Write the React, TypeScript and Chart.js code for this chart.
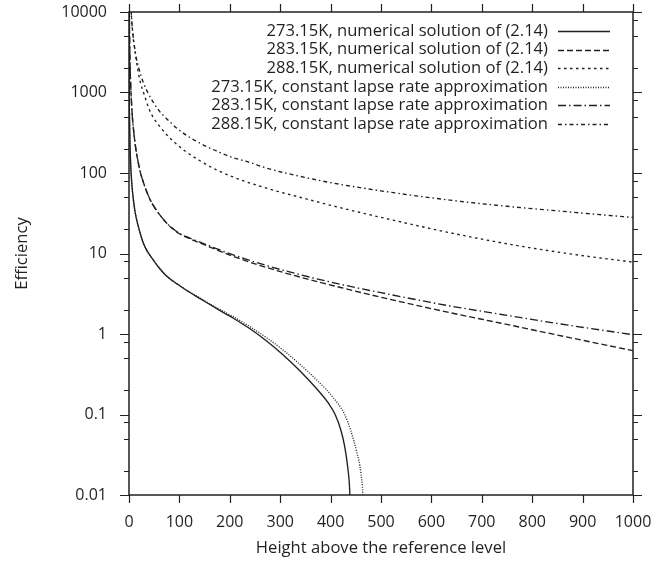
import React, { useEffect, useRef } from "react";
import { Chart, registerables } from "chart.js";

Chart.register(...registerables);

const FONT = "'Open Sans'";
const INK = "#231f20";

const LEGEND_LABELS = [
  "273.15K, numerical solution of (2.14)",
  "283.15K, numerical solution of (2.14)",
  "288.15K, numerical solution of (2.14)",
  "273.15K, constant lapse rate approximation",
  "283.15K, constant lapse rate approximation",
  "288.15K, constant lapse rate approximation",
];

const X_TICKS = [0, 100, 200, 300, 400, 500, 600, 700, 800, 900, 1000];
const Y_TICKS = [0.01, 0.1, 1, 10, 100, 1000, 10000];
const Y_MINOR_FACTORS = [2, 5, 8];

// 273.15K numerical (solid)
const X_273_NUM = [0, 0.5, 1, 2, 4, 6, 8.6, 12, 16, 22, 28, 35, 47.6, 60, 75, 100, 120, 141, 175, 207, 240, 273, 306, 339, 372, 395, 409, 420, 428, 434, 438, 440];
const Y_273_NUM = [20000, 1000, 480, 220, 105, 68, 47, 33, 25, 18, 13.7, 11, 8.4, 6.6, 5.2, 4.0, 3.3, 2.75, 2.05, 1.57, 1.16, 0.82, 0.55, 0.35, 0.21, 0.14, 0.1, 0.065, 0.04, 0.022, 0.011, 0.004];

// 283.15K numerical (dashed)
const X_283_NUM = [0, 0.5, 1, 2, 5, 10, 20, 30, 41.7, 50, 60, 75, 88, 100, 120, 141, 207, 273, 339, 420, 500, 637, 736, 850, 1000];
const Y_283_NUM = [30000, 15000, 5900, 2400, 740, 300, 120, 72, 47, 38, 30.9, 23.7, 20, 17.6, 15.3, 13.5, 9.2, 6.7, 5.1, 3.78, 2.86, 1.84, 1.37, 0.97, 0.62];

// 288.15K numerical (short dashes)
const X_288_NUM = [0, 1, 2, 3, 5, 8, 12, 17, 22.6, 30, 40, 50, 63, 80, 108, 140, 174, 207, 240, 290, 339, 400, 500, 637, 750, 870, 1000];
const Y_288_NUM = [200000, 50000, 23000, 15000, 8500, 5000, 3200, 2000, 1330, 950, 620, 470, 365, 277, 194, 143, 109, 89, 75, 60.3, 50, 39.7, 28.1, 18.1, 13.2, 10.0, 7.8];

// 273.15K approximation (fine dots)
const X_273_APP = [0, 0.5, 1, 2, 4, 6, 8.6, 12, 16, 22, 28, 35, 47.6, 60, 75, 100, 120, 141, 175, 207, 240, 273, 306, 339, 372, 405, 428, 440, 452, 460, 464, 466];
const Y_273_APP = [20000, 1000, 480, 220, 105, 68, 47, 33, 25, 18, 13.7, 11, 8.4, 6.6, 5.2, 4.02, 3.33, 2.79, 2.1, 1.64, 1.23, 0.9, 0.63, 0.42, 0.27, 0.163, 0.1, 0.063, 0.034, 0.019, 0.01, 0.004];

// 283.15K approximation (dash-dot)
const X_283_APP = [0, 0.5, 1, 2, 5, 10, 20, 30, 41.7, 50, 60, 75, 88, 100, 120, 141, 207, 273, 339, 420, 500, 637, 736, 850, 1000];
const Y_283_APP = [30000, 15000, 5900, 2400, 740, 300, 120, 72, 47, 38, 30.9, 23.8, 20.2, 17.8, 15.6, 13.8, 9.6, 7.08, 5.47, 4.14, 3.26, 2.23, 1.76, 1.35, 0.98];

// 288.15K approximation (dash-dot-dot)
const X_288_APP = [0, 1, 2, 3.5, 5.3, 8, 11, 15, 20, 28, 38, 48, 60, 75, 100, 141, 175, 207, 240, 273, 339, 400, 500, 637, 750, 870, 1000];
const Y_288_APP = [200000, 50000, 23700, 13000, 8100, 5200, 3700, 2600, 1950, 1350, 980, 760, 590, 470, 339, 234, 186, 155, 135, 115, 91, 76, 60, 46, 38.6, 33, 28];

const DASHES: number[][] = [
  [],
  [6, 3],
  [2.5, 3.5],
  [1, 1.5],
  [8, 3, 1.5, 3],
  [4, 3, 1.5, 3],
];

const SERIES = [
  [X_273_NUM, Y_273_NUM],
  [X_283_NUM, Y_283_NUM],
  [X_288_NUM, Y_288_NUM],
  [X_273_APP, Y_273_APP],
  [X_283_APP, Y_283_APP],
  [X_288_APP, Y_288_APP],
];

const TEXT_SIZE = 16.6;

const framePlugin = {
  id: "frame",
  afterDatasetsDraw(chart: any) {
    const { ctx, chartArea: a, scales } = chart;
    const xs = scales.x;
    const ys = scales.y;
    ctx.save();
    ctx.strokeStyle = INK;
    ctx.lineWidth = 1.5;
    ctx.setLineDash([]);
    ctx.strokeRect(a.left, a.top, a.right - a.left, a.bottom - a.top);
    ctx.lineWidth = 1.2;
    ctx.beginPath();
    for (const v of X_TICKS) {
      const px = Math.round(xs.getPixelForValue(v)) + 0.5;
      ctx.moveTo(px, a.bottom);
      ctx.lineTo(px, a.bottom + 8);
      ctx.moveTo(px, a.top);
      ctx.lineTo(px, a.top - 8);
    }
    for (const v of Y_TICKS) {
      const py = Math.round(ys.getPixelForValue(v)) + 0.5;
      ctx.moveTo(a.left - 9, py);
      ctx.lineTo(a.left, py);
      ctx.moveTo(a.right, py);
      ctx.lineTo(a.right + 9, py);
    }
    for (let i = 0; i < Y_TICKS.length - 1; i++) {
      for (const m of Y_MINOR_FACTORS) {
        const py = Math.round(ys.getPixelForValue(Y_TICKS[i] * m)) + 0.5;
        ctx.moveTo(a.left - 5, py);
        ctx.lineTo(a.left, py);
        ctx.moveTo(a.right, py);
        ctx.lineTo(a.right + 5, py);
      }
    }
    ctx.stroke();

    // legend
    ctx.font = `${TEXT_SIZE}px ${FONT}`;
    ctx.fillStyle = INK;
    ctx.textAlign = "right";
    ctx.textBaseline = "middle";
    const ds = chart.data.datasets;
    for (let i = 0; i < ds.length; i++) {
      const ty = a.top + 19 + i * 18.6;
      ctx.fillText(ds[i].label, a.right - 85, ty);
      ctx.beginPath();
      ctx.lineWidth = 1.3;
      ctx.setLineDash(DASHES[i]);
      ctx.moveTo(a.right - 75, Math.round(ty) + 0.5);
      ctx.lineTo(a.right - 23, Math.round(ty) + 0.5);
      ctx.stroke();
    }
    ctx.restore();
  },
};

export default function App() {
  const ref = useRef<HTMLCanvasElement | null>(null);
  useEffect(() => {
    if (!ref.current) return;
    const datasets = SERIES.map(([xa, ya], i) => ({
      label: LEGEND_LABELS[i],
      data: xa.map((x, k) => ({ x, y: ya[k] })),
      borderColor: INK,
      borderWidth: 1.35,
      borderDash: DASHES[i],
      pointRadius: 0,
      fill: false,
      cubicInterpolationMode: "monotone" as const,
    }));
    const chart = new Chart(ref.current, {
      type: "line",
      data: { datasets },
      options: {
        animation: false,
        responsive: false,
        devicePixelRatio: 1,
        layout: { padding: { left: 0, right: 31, top: 12, bottom: 0 } },
        plugins: { legend: { display: false }, tooltip: { enabled: false } },
        scales: {
          x: {
            type: "linear",
            min: 0,
            max: 1000,
            afterBuildTicks: (s: any) => {
              s.ticks = X_TICKS.map((v) => ({ value: v }));
            },
            afterFit: (s: any) => {
              s.height = 69;
              s.paddingLeft = 0;
              s.paddingRight = 0;
            },
            ticks: {
              color: INK,
              font: { family: FONT, size: 16 },
              padding: 18,
              maxRotation: 0,
              autoSkip: false,
              callback: (v: any) => String(v),
            },
            grid: { display: true, drawOnChartArea: false, drawTicks: false },
            border: { display: false },
            title: {
              display: true,
              text: "Height above the reference level",
              color: INK,
              font: { family: FONT, size: TEXT_SIZE },
              padding: { top: 0, bottom: 6 },
            },
          },
          y: {
            type: "logarithmic",
            min: 0.01,
            max: 10000,
            afterBuildTicks: (s: any) => {
              s.ticks = Y_TICKS.map((v) => ({ value: v }));
            },
            afterFit: (s: any) => {
              s.width = 129;
              s.paddingTop = 0;
              s.paddingBottom = 0;
            },
            ticks: {
              color: INK,
              font: { family: FONT, size: 16 },
              padding: 22,
              autoSkip: false,
              callback: (v: any) => String(v),
            },
            grid: { display: true, drawOnChartArea: false, drawTicks: false },
            border: { display: false },
            title: {
              display: true,
              text: "Efficiency",
              color: INK,
              font: { family: FONT, size: TEXT_SIZE },
              padding: { top: 12, bottom: 0 },
            },
          },
        },
      },
      plugins: [framePlugin],
    });
    return () => chart.destroy();
  }, []);
  return (
    <canvas
      ref={ref}
      width={664}
      height={564}
      style={{ position: "fixed", left: 0, top: 0, width: 664, height: 564, display: "block", background: "#fff" }}
    />
  );
}
